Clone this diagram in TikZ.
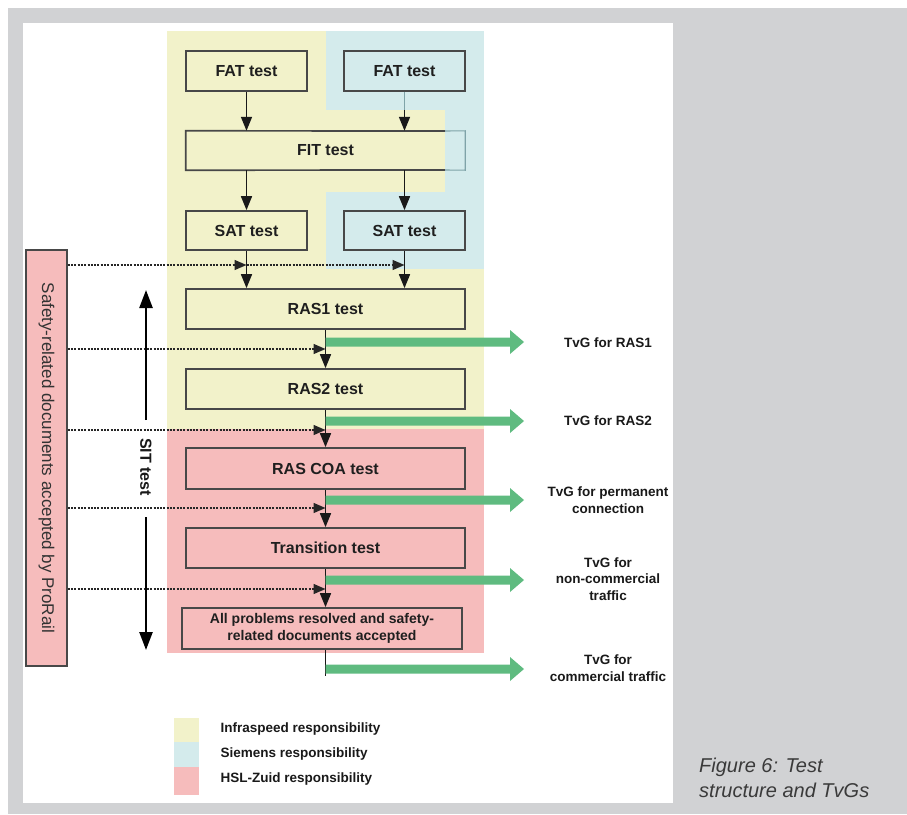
\documentclass[tikz,border=0pt]{standalone}
\usepackage{fontspec}
\setmainfont{Liberation Sans}
\usetikzlibrary{arrows.meta}
\definecolor{bggray}{HTML}{D1D2D4}
\definecolor{yel}{HTML}{F2F2CA}
\definecolor{blu}{HTML}{D4EBEC}
\definecolor{pnk}{HTML}{F6BCBC}
\definecolor{grn}{HTML}{5FBB80}
\definecolor{edge}{HTML}{484848}
\definecolor{bluedge}{HTML}{7FA3A8}
\definecolor{captxt}{HTML}{3A3A3A}
\newcommand\tvgarrow[1]{\fill[grn] (325.5,#1-4.5) -- (510,#1-4.5) -- (510,#1-12) -- (524,#1) -- (510,#1+12) -- (510,#1+4.5) -- (325.5,#1+4.5) -- cycle;}
\begin{document}
\begin{tikzpicture}[x=1pt,y=-1pt,
  testbox/.style={draw=edge, line width=1.7pt, inner sep=0pt, font=\fontsize{16}{18}\selectfont\bfseries, text=black!88},
  flow/.style={line width=1.6pt, draw=black!90, -{Triangle[length=14pt,width=11pt]}},
  docarrow/.style={line width=1.4pt, draw=black!85, dash pattern=on 2pt off 1.3pt, -{Triangle[length=12pt,width=10pt]}},
  sitline/.style={line width=2.4pt, -{Triangle[length=18pt,width=13pt]}},
  tvg/.style={font=\fontsize{13.5}{16.5}\selectfont\bfseries, align=center, text=black!90},
  legendtxt/.style={font=\fontsize{13.5}{16}\selectfont\bfseries, anchor=west, text=black!90},
]
\useasboundingbox (0,0) rectangle (907,814);
% page background
\fill[white] (0,0) rectangle (907,814);
\fill[bggray] (8,8) rectangle (907,814);
\fill[white] (23,23) rectangle (673,803);
% responsibility areas
\fill[yel] (167,31) rectangle (484,429);
\fill[blu] (326,31) rectangle (484,110);
\fill[blu] (445,110) rectangle (484,192);
\fill[blu] (326,192) rectangle (484,269);
\fill[pnk] (167,429) rectangle (484,653);

% boxes
\node[testbox, minimum width=121pt, minimum height=40pt] (fatL) at (246.5,71) {FAT test};
\node[testbox, minimum width=121pt, minimum height=40pt] (fatR) at (404.5,71) {FAT test};
\node[inner sep=0pt, minimum width=279pt, minimum height=39pt, font=\fontsize{16}{18}\selectfont\bfseries, text=black!88] (fit) at (325.5,150.5) {FIT test};
\coordinate (fs1) at (445,131);
\coordinate (fs2) at (445,170);
\draw[edge, line width=1.7pt] (fs1) -- (fit.north west) -- (fit.south west) -- (fs2);
\draw[bluedge, line width=1.1pt] (fs1) -- (fit.north east) -- (fit.south east) -- (fs2);
\node[testbox, minimum width=121pt, minimum height=39pt] (satL) at (246.5,230.5) {SAT test};
\node[testbox, minimum width=121pt, minimum height=39pt] (satR) at (404.5,230.5) {SAT test};
\node[testbox, minimum width=279pt, minimum height=40pt] (ras1) at (325.5,309) {RAS1 test};
\node[testbox, minimum width=279pt, minimum height=40pt] (ras2) at (325.5,389) {RAS2 test};
\node[testbox, minimum width=279pt, minimum height=41pt] (rascoa) at (325.5,468.5) {RAS COA test};
\node[testbox, minimum width=279pt, minimum height=40pt] (trans) at (325.5,548) {Transition test};
\node[testbox, minimum width=280pt, minimum height=41pt, align=center, font=\fontsize{14}{17}\selectfont\bfseries] (allp) at (322,628.5) {All problems resolved and safety-\\related documents accepted};

% safety documents box
\node[draw=edge, line width=1.4pt, fill=pnk, minimum width=41pt, minimum height=416pt, inner sep=0pt] (safety) at (46.5,458) {};
\node[rotate=-90, font=\fontsize{17}{19}\selectfont, text=black!80] (safetytxt) at (safety.center) {Safety-related documents accepted by ProRail};

% flow arrows
\coordinate (fr1) at (404.5,110);
\draw[bluedge, line width=1.6pt] (fatR.south) -- (fr1);
\draw[flow] (fr1) -- (fit.north -| fatR.south);
\draw[flow] (fatL.south) -- (fit.north -| fatL.south);
\draw[flow] (fit.south -| satL.north) -- (satL.north);
\draw[flow] (fit.south -| satR.north) -- (satR.north);
\draw[flow] (satL.south) -- (ras1.north -| satL.south);
\draw[flow] (satR.south) -- (ras1.north -| satR.south);
\draw[flow] (ras1.south) -- (ras2.north);
\draw[flow] (ras2.south) -- (rascoa.north);
\draw[flow] (rascoa.south) -- (trans.north);
\draw[flow] (trans.south) -- (allp.north -| trans.south);
\coordinate (endline) at (325.5,676);
\draw[line width=1.6pt, black!90] (allp.south -| trans.south) -- (endline);

% dashed document arrows
\coordinate (d1a) at (246.5,265);
\coordinate (d1b) at (404.5,265);
\coordinate (d2) at (325.5,349);
\coordinate (d3) at (325.5,430);
\coordinate (d4) at (325.5,508);
\coordinate (d5) at (325.5,589);
\draw[docarrow] (safety.east |- d1a) -- (d1a);
\draw[docarrow] (d1a) -- (d1b);
\draw[docarrow] (safety.east |- d2) -- (d2);
\draw[docarrow] (safety.east |- d3) -- (d3);
\draw[docarrow] (safety.east |- d4) -- (d4);
\draw[docarrow] (safety.east |- d5) -- (d5);

% SIT test
\node[rotate=-90, font=\fontsize{16}{18}\selectfont\bfseries, text=black!90] (sit) at (146,467) {SIT test};
\coordinate (sitA) at (146,420);
\coordinate (sitB) at (146,290);
\coordinate (sitC) at (146,517);
\coordinate (sitD) at (146,650);
\draw[sitline] (sitA) -- (sitB);
\draw[sitline] (sitC) -- (sitD);

% TvG arrows and labels
\tvgarrow{342}
\tvgarrow{421}
\tvgarrow{500}
\tvgarrow{580}
\tvgarrow{669}
\node[tvg] (tvg1) at (608,343) {TvG for RAS1};
\node[tvg] (tvg2) at (608,421) {TvG for RAS2};
\node[tvg] (tvg3) at (608,500) {TvG for permanent\\connection};
\node[tvg] (tvg4) at (608,579) {TvG for\\non-commercial\\traffic};
\node[tvg] (tvg5) at (608,668) {TvG for\\commercial traffic};

% legend
\fill[yel] (174,718) rectangle (199,742);
\fill[blu] (174,742) rectangle (199,767);
\fill[pnk] (174,767) rectangle (199,795);
\node[legendtxt] (lg1) at (217,729) {Infraspeed responsibility};
\node[legendtxt] (lg2) at (217,754) {Siemens responsibility};
\node[legendtxt] (lg3) at (217,779) {HSL-Zuid responsibility};

% caption
\node[anchor=west, align=left, inner sep=0pt, font=\fontsize{20}{25}\selectfont\itshape, text=captxt] (cap) at (699,777.5) {Figure 6: Test\\structure and TvGs};
\end{tikzpicture}
\end{document}
